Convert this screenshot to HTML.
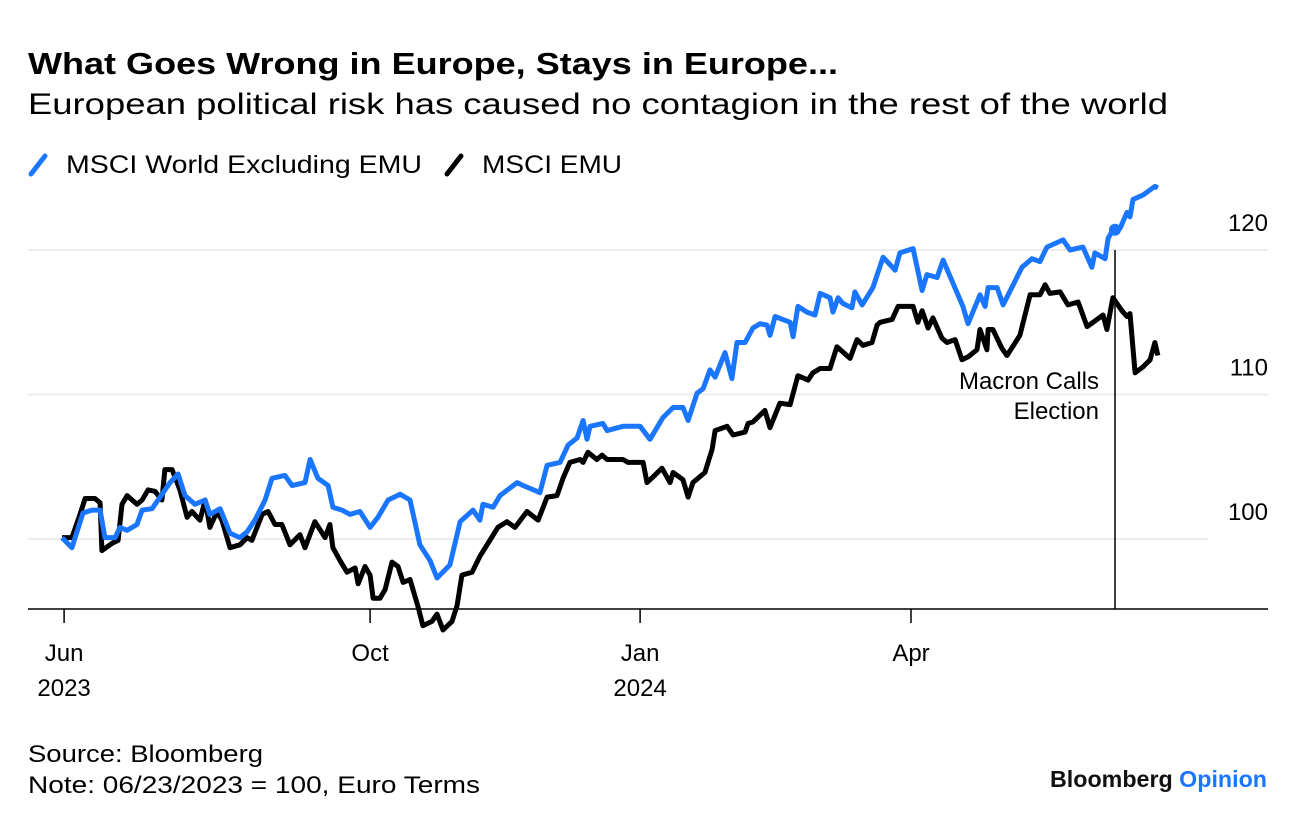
<!DOCTYPE html>
<html><head><meta charset="utf-8"><style>
html,body{margin:0;padding:0;background:#fff;}
svg{display:block;font-family:"Liberation Sans",sans-serif;}
</style></head><body>
<svg id="chart" width="1296" height="824" viewBox="0 0 1296 824" xmlns="http://www.w3.org/2000/svg">
<text x="28" y="74" font-size="31" font-weight="bold" textLength="810" lengthAdjust="spacingAndGlyphs">What Goes Wrong in Europe, Stays in Europe...</text>
<text x="28" y="114" font-size="30" textLength="1140" lengthAdjust="spacingAndGlyphs">European political risk has caused no contagion in the rest of the world</text>
<g>
<g>
<line x1="31" y1="174" x2="45" y2="156" stroke="#1a75ff" stroke-width="5" stroke-linecap="round"/>
<text x="66" y="173" font-size="25" textLength="356" lengthAdjust="spacingAndGlyphs">MSCI World Excluding EMU</text></g>
<g>
<line x1="447" y1="174" x2="461" y2="156" stroke="#000" stroke-width="5" stroke-linecap="round"/>
<text x="482" y="173" font-size="25" textLength="140" lengthAdjust="spacingAndGlyphs">MSCI EMU</text></g>
</g>
<g id="grid"></g>
<g id="yaxis"></g>
<g id="xaxis"></g>
<g id="series"></g>
<g id="annot"></g>
<text x="28" y="762" font-size="24" textLength="235" lengthAdjust="spacingAndGlyphs">Source: Bloomberg</text>
<text x="28" y="793" font-size="24" textLength="452" lengthAdjust="spacingAndGlyphs">Note: 06/23/2023 = 100, Euro Terms</text>
<text x="1050" y="787" font-size="23" font-weight="bold" textLength="217" lengthAdjust="spacingAndGlyphs"><tspan fill="#111">Bloomberg </tspan><tspan fill="#1a75ff">Opinion</tspan></text>
</svg>
<script>
// days since 2023-06-23
const worldDays=[0,3.3,7,10,12.7,14.3,17.7,19.3,21.7,25,26.7,30,32.7,36,38.7,41,44.3,47.7,49.3,52.7,56,59.3,61.7,64.3,67.7,70,74.3,76.7,81,82.7,85.3,88.7,90.3,93.3,96,99.3,102.7,105.3,108.7,112.7,116,119.3,122.7,125,129.3,132.7,137,139.3,140.3,143.7,146,151.7,153.7,158.3,159.3,161.7,166,168.7,171.7,173.7,175,176,180.3,181.7,187,192.7,196,200.3,203.7,207,208.7,211.7,213.7,216,217.7,221,223.3,225,227.7,230.3,232.7,235,236,237.7,242.7,243.7,245.3,248.3,251,252.7,256,257,258.7,260.3,263.3,264.3,266.7,270.3,273.7,277.7,279.3,283.7,286.7,288.3,291.7,293.7,300.3,302,306,307.7,308.7,311.7,313.7,320,323.3,326,328.3,333.7,336,340.3,343.3,344.3,347.7,348.7,350.3,352.7,355,356,357,360.3,364.3,365.3];
const worldValues=[100.1,99.4,101.8,102.0,102.0,100.1,100.1,100.8,100.6,101.0,102.0,102.1,102.9,103.9,104.5,103.0,102.4,102.7,101.7,102.1,100.4,100.1,100.5,101.3,102.7,104.2,104.4,103.7,103.9,105.5,104.2,103.7,102.2,102.0,101.7,101.9,100.8,101.5,102.7,103.1,102.7,99.6,98.5,97.3,98.2,101.2,102.0,101.3,102.4,102.2,103.0,103.9,103.7,103.3,103.2,105.1,105.3,106.5,107.0,108.2,106.9,107.8,108.0,107.5,107.8,107.8,106.9,108.4,109.1,109.1,108.2,110.1,110.4,111.7,111.2,112.9,111.1,113.6,113.6,114.6,114.9,114.8,114.1,115.4,115.0,114.0,116.1,115.7,115.5,117.0,116.7,115.7,116.7,116.3,116.0,117.1,116.2,117.4,119.5,118.6,119.8,120.1,117.2,118.3,118.1,119.3,116.1,114.9,116.9,116.1,117.4,117.4,116.2,118.8,119.4,119.2,120.2,120.7,120.0,120.2,118.8,119.8,119.4,120.8,121.4,121.5,122.6,122.3,123.5,123.8,124.4,124.3];
const emuDays=[0,3.3,6,7.7,11,12.7,13.3,16.7,18.7,20,21.7,25,26.7,28.7,31,33.3,34.3,36.7,39.3,41.7,43.3,46,47.7,49.3,51.7,53.3,56,59.3,61.7,63.3,66.7,68.7,71,73.3,76,79.3,81,84.3,87.7,89.3,90.3,92.7,95,97.7,98.7,101,102.7,103.7,106,107.7,110,112,113.7,116,118.7,120.3,123.3,125,127,130,131.7,133.3,136.7,139.3,145.3,148.3,151,155,158.7,161.7,165,167,169.3,172.7,173.7,175.3,178.3,180,181.7,187,188.7,193.7,195,197,200,202.7,203.7,207,208.7,210.3,214.3,216.7,217.7,221.7,223.7,227.7,228.7,230.3,234.3,236,239.3,242.7,245.3,248.7,250.3,252.7,256,258.3,262.7,265,267,270,271.7,272.7,276.7,278.7,283.7,285.3,286.7,288.7,290.3,293.3,295,297.7,300,302,305,306,308.3,308.7,310.3,313.3,315,319.3,322.7,326,327.7,329.3,332.7,335.3,338.7,341.7,343.7,347,348.3,350.3,353.3,355,356,357.7,360.3,362.7,364.3,365.3];
const emuValues=[100.1,100.1,101.7,102.8,102.8,102.5,99.2,99.7,99.9,102.4,103.0,102.4,102.7,103.4,103.3,102.7,104.8,104.8,103.4,101.5,101.9,101.3,102.7,100.8,101.9,101.3,99.4,99.6,100.1,99.9,101.7,101.9,101.0,101.0,99.6,100.3,99.4,101.2,100.1,101.0,99.4,98.5,97.7,98.0,96.9,98.1,97.5,95.9,95.9,96.5,98.4,98.1,97.0,97.2,95.3,94.0,94.3,94.8,93.7,94.3,95.4,97.5,97.7,98.8,100.8,101.2,100.8,101.9,101.3,102.9,103.0,104.2,105.3,105.5,105.3,106.0,105.5,105.8,105.5,105.5,105.3,105.3,103.9,104.3,104.9,103.9,104.6,104.1,102.9,103.9,104.6,106.2,107.5,107.8,107.2,107.4,108.0,108.1,108.9,107.7,109.4,109.3,111.3,111.0,111.5,111.8,111.8,113.3,112.5,113.8,113.4,113.6,114.8,115.0,115.2,116.1,116.1,115.0,115.8,114.6,115.3,113.9,113.6,113.8,112.4,112.6,113.1,114.5,113.1,114.5,114.5,113.2,112.7,114.1,116.9,116.9,117.6,117.0,117.1,116.2,116.4,114.7,115.0,115.5,114.5,116.7,115.8,115.4,115.6,111.5,111.9,112.4,113.6,112.7];
const yTicks=[100,110,120];
const yTickLabels=["100","110","120"];
const xTickDays=[0.7,102.7,192.7,283];
const xTickLabels=["Jun","Oct","Jan","Apr"];
const xTickYears=["2023","","2024",""];
const macronDay=351;
const macronWorldValue=121.4;
const macronLabel=["Macron Calls","Election"];

const NS="http://www.w3.org/2000/svg";
function X(d){return 62+3*d;}
function Y(v){return 539-(v-100)*14.45;}
function mk(tag,attrs,parent){const e=document.createElementNS(NS,tag);for(const k in attrs)e.setAttribute(k,attrs[k]);parent.appendChild(e);return e;}
const grid=document.getElementById('grid'),yax=document.getElementById('yaxis'),xax=document.getElementById('xaxis'),ser=document.getElementById('series'),ann=document.getElementById('annot');
yTicks.forEach((t,i)=>{
  const l=mk('line',{x1:28,x2:i===0?1208:1268,y1:Y(t),y2:Y(t),stroke:'#ececec','stroke-width':2},grid);
  
  
  const tx=mk('text',{x:1268,y:Y(t)-19,'font-size':24,'text-anchor':'end'},yax);
  tx.textContent=yTickLabels[i];
  
  
});
const ax=mk('line',{x1:28,x2:1268,y1:609,y2:609,stroke:'#000','stroke-width':1.5},xax);


xTickDays.forEach((d,i)=>{
  const t=mk('line',{x1:X(d),x2:X(d),y1:609,y2:623,stroke:'#000','stroke-width':1.5},xax);
  
  
  const tx=mk('text',{x:X(d),y:661,'font-size':24,'text-anchor':'middle'},xax);
  tx.textContent=xTickLabels[i];
  
  
  if(xTickYears[i]){
    const ty=mk('text',{x:X(d),y:696,'font-size':24,'text-anchor':'middle'},xax);
    ty.textContent=xTickYears[i];
    
    
  }
});
function path(days,vals){return days.map((d,i)=>(i?'L':'M')+X(d).toFixed(1)+','+Y(vals[i]).toFixed(1)).join('');}
const pb=mk('path',{d:path(emuDays,emuValues),fill:'none',stroke:'#000','stroke-width':5,'stroke-linejoin':'round'},ser);


const pw=mk('path',{d:path(worldDays,worldValues),fill:'none',stroke:'#1a75ff','stroke-width':5,'stroke-linejoin':'round'},ser);


const ml=mk('line',{x1:X(macronDay),x2:X(macronDay),y1:250,y2:609,stroke:'#000','stroke-width':1.5},ann);


const dot=mk('circle',{cx:X(macronDay),cy:Y(macronWorldValue),r:6,fill:'#1a75ff'},ann);


macronLabel.forEach((s,i)=>{
  const t=mk('text',{x:X(macronDay)-16,y:389+i*30,'font-size':24,'text-anchor':'end'},ann);
  t.textContent=s;
  
  
});
</script>
</body></html>
